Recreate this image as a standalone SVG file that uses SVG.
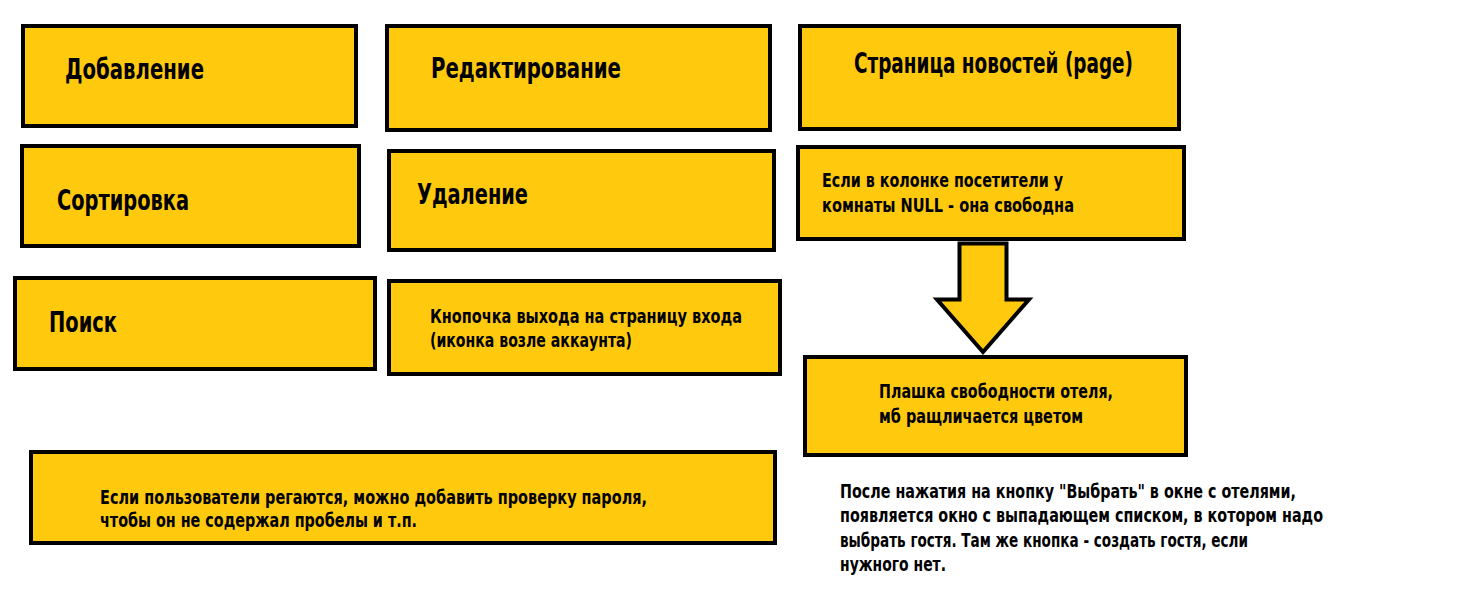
<svg xmlns="http://www.w3.org/2000/svg" width="1459" height="591" viewBox="0 0 1459 591">
<style>
.box{fill:#FFC90E;stroke:#000;stroke-width:4}
.big{font-family:"Liberation Sans Narrow","DejaVu Sans Condensed","Liberation Sans",sans-serif;font-weight:bold;font-size:29px;fill:#000}
.sm{font-family:"Liberation Sans Narrow","DejaVu Sans Condensed","Liberation Sans",sans-serif;font-weight:bold;font-size:19px;fill:#000}
</style>
<rect width="1459" height="591" fill="#fff"/>
<g id="add"><rect class="box" x="23" y="26" width="333" height="100"/><text class="big" x="65" y="79" textLength="139" lengthAdjust="spacingAndGlyphs">Добавление</text></g>
<g id="sort"><rect class="box" x="22" y="146" width="337" height="100"/><text class="big" x="57" y="210" textLength="132" lengthAdjust="spacingAndGlyphs">Сортировка</text></g>
<g id="search"><rect class="box" x="15" y="278" width="360" height="91"/><text class="big" x="49" y="332" textLength="68" lengthAdjust="spacingAndGlyphs">Поиск</text></g>
<g id="edit"><rect class="box" x="387" y="26" width="383" height="104"/><text class="big" x="431" y="78" textLength="190" lengthAdjust="spacingAndGlyphs">Редактирование</text></g>
<g id="delete"><rect class="box" x="389" y="151" width="385" height="99"/><text class="big" x="417" y="204" textLength="111" lengthAdjust="spacingAndGlyphs">Удаление</text></g>
<g id="logout"><rect class="box" x="389" y="281" width="391" height="93"/><text class="sm" x="430" y="323" textLength="312" lengthAdjust="spacingAndGlyphs">Кнопочка выхода на страницу входа</text><text class="sm" x="430" y="347" textLength="202" lengthAdjust="spacingAndGlyphs">(иконка возле аккаунта)</text></g>
<g id="password"><rect class="box" x="31" y="452" width="744" height="91"/><text class="sm" x="100" y="504" textLength="547" lengthAdjust="spacingAndGlyphs">Если пользователи регаются, можно добавить проверку пароля,</text><text class="sm" x="100" y="527" textLength="317" lengthAdjust="spacingAndGlyphs">чтобы он не содержал пробелы и т.п.</text></g>
<g id="news"><rect class="box" x="800" y="26" width="379" height="103"/><text class="big" x="854" y="73" textLength="279" lengthAdjust="spacingAndGlyphs">Страница новостей (page)</text></g>
<g id="null"><rect class="box" x="798" y="147" width="386" height="92"/><text class="sm" x="822" y="187" textLength="241" lengthAdjust="spacingAndGlyphs">Если в колонке посетители у</text><text class="sm" x="822" y="212" textLength="252" lengthAdjust="spacingAndGlyphs">комнаты NULL - она свободна</text></g>
<g id="badge"><rect class="box" x="805" y="357" width="381" height="98"/><text class="sm" x="879" y="398" textLength="234" lengthAdjust="spacingAndGlyphs">Плашка свободности отеля,</text><text class="sm" x="879" y="423" textLength="204" lengthAdjust="spacingAndGlyphs">мб ращличается цветом</text></g>
<g id="connectors"><path class="box" stroke-width="3.5" stroke-linejoin="miter" d="M959.5,243.5 H1006.5 V299.5 H1029 L983,352 L937,299.5 H959.5 Z"/></g>
<g id="note">
<text class="sm" x="840" y="498" textLength="456" lengthAdjust="spacingAndGlyphs">После нажатия на кнопку "Выбрать" в окне с отелями,</text>
<text class="sm" x="840" y="522" textLength="483" lengthAdjust="spacingAndGlyphs">появляется окно с выпадающем списком, в котором надо</text>
<text class="sm" x="840" y="547" textLength="408" lengthAdjust="spacingAndGlyphs">выбрать гостя. Там же кнопка - создать гостя, если</text>
<text class="sm" x="840" y="571" textLength="106" lengthAdjust="spacingAndGlyphs">нужного нет.</text>
</g>
</svg>
